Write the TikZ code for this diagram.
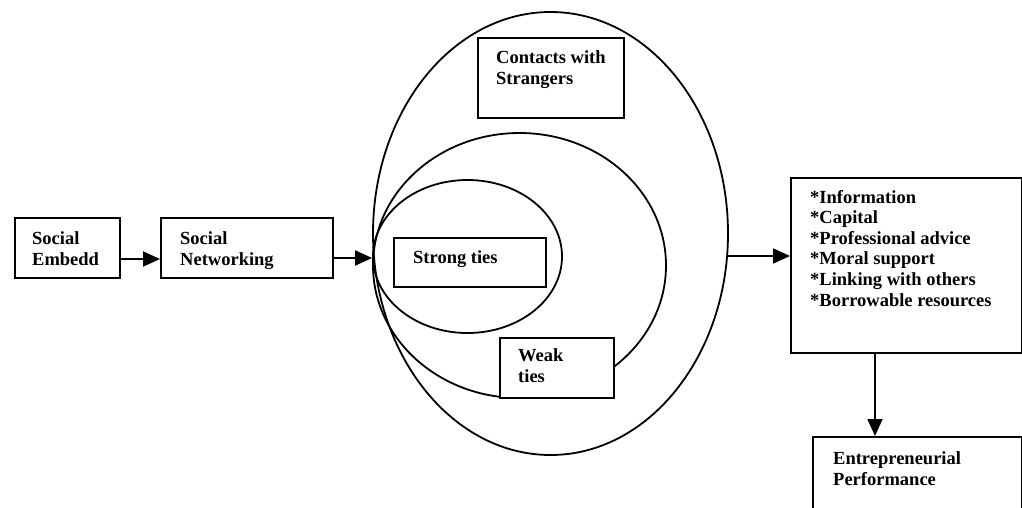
\documentclass[tikz,border=0pt]{standalone}
\usepackage{fontspec}
\setmainfont{Liberation Serif}
\usetikzlibrary{shapes.geometric,arrows.meta}
\begin{document}
\begin{tikzpicture}[x=1pt,y=-1pt,
  box/.style={draw, line width=1.9pt, fill=white, rectangle, inner sep=0pt, anchor=north west},
  ell/.style={draw, line width=1.8pt, ellipse, inner sep=0pt},
  txt/.style={anchor=base west, inner sep=0pt, align=left, font=\bfseries\fontsize{18.5}{21}\selectfont},
  lst/.style={anchor=base west, inner sep=0pt, align=left, font=\bfseries\fontsize{18.5}{20.6}\selectfont},
  arr/.style={line width=1.9pt, -{Triangle[length=17pt,width=15pt]}}]
\useasboundingbox (0,0) rectangle (1022,508);
\clip (0,0) rectangle (1022,508);
% ellipses
\node[ell, minimum width=355pt, minimum height=443pt] (outer) at (550.5,233.5) {};
\node[ell, minimum width=293pt, minimum height=265pt] (middle) at (519.5,265.5) {};
\node[ell, minimum width=189pt, minimum height=153pt] (inner) at (467.5,256.5) {};
% boxes
\node[box, minimum width=105pt, minimum height=60pt] (emb) at (14,217) {};
\node[box, minimum width=172pt, minimum height=60pt] (net) at (160,217) {};
\node[box, minimum width=146pt, minimum height=80pt] (con) at (477,37) {};
\node[box, minimum width=152pt, minimum height=49pt] (str) at (393,237) {};
\node[box, minimum width=114pt, minimum height=60pt] (weak) at (499,337) {};
\node[box, minimum width=231pt, minimum height=175pt] (res) at (790,177) {};
\node[box, minimum width=209pt, minimum height=120pt] (ent) at (812,436) {};
% texts (base = baseline of the last line)
\node[txt] (temb) at (32,265) {Social\\Embedd};
\node[txt] (tnet) at (180,265) {Social\\Networking};
\node[txt] (tcon) at (496,85) {Contacts with\\Strangers};
\node[txt] (tstr) at (413,263) {Strong ties};
\node[txt] (tweak) at (518,382) {Weak\\ties};
\node[lst] (tres) at (810,306) {*Information\\*Capital\\*Professional advice\\*Moral support\\*Linking with others\\*Borrowable resources};
\node[txt] (tent) at (833,485) {Entrepreneurial\\Performance};
% connectors
\coordinate (y1) at (0,259);
\coordinate (y2) at (0,258);
\coordinate (y3) at (728,256);
\coordinate (x4) at (875,0);
\draw[arr] (emb.east |- y1) -- (net.west |- y1);
\draw[arr] (net.east |- y2) -- (outer.west |- y2);
\draw[arr] (y3) -- (res.west |- y3);
\draw[arr] (res.south -| x4) -- (ent.north -| x4);
\end{tikzpicture}
\end{document}
